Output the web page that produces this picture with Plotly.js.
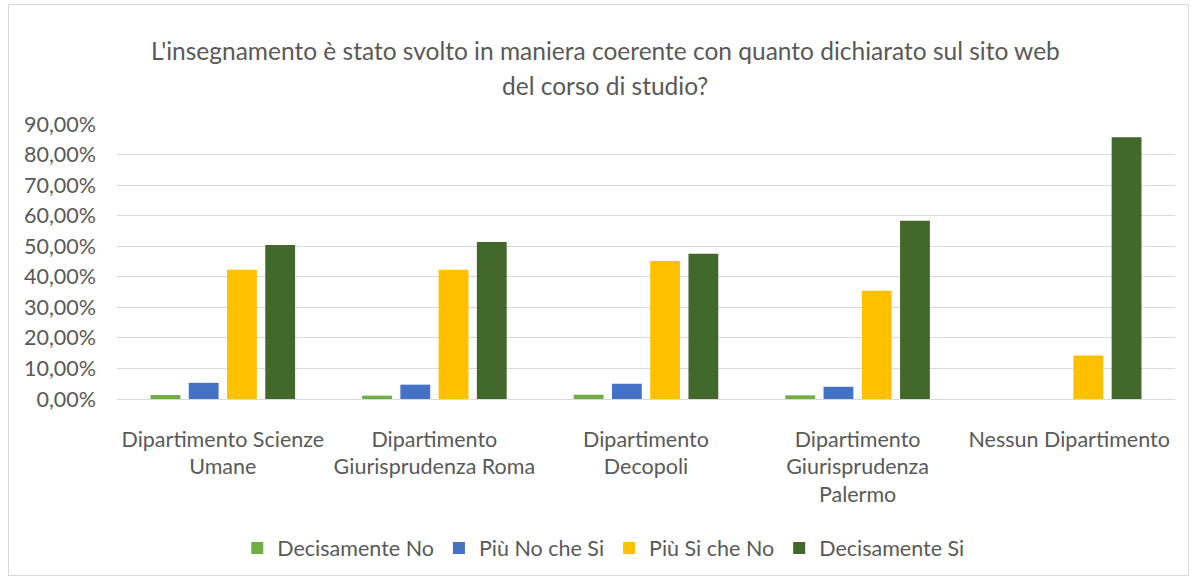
<!DOCTYPE html>
<html>
<head>
<meta charset="utf-8">
<script src="https://cdn.plot.ly/plotly-3.0.1.min.js"></script>
<style>
  html, body { margin: 0; padding: 0; background: #ffffff; }
  #frame { position: absolute; left: 8px; top: 4px; width: 1179px; height: 570px; border: 1px solid #d9d9d9; }
  #chart { position: absolute; left: 0; top: 0; width: 1197px; height: 579px; }
</style>
</head>
<body>
<div id="frame"></div>
<div id="chart"></div>
<script>
const categories = [
  "Dipartimento Scienze<br>Umane",
  "Dipartimento<br>Giurisprudenza Roma",
  "Dipartimento<br>Decopoli",
  "Dipartimento<br>Giurisprudenza<br>Palermo",
  "Nessun Dipartimento"
];
const seriesNames = ["Decisamente No", "Più No che Si", "Più Si che No", "Decisamente Si"];
const decisamenteNo = [0.013, 0.011, 0.014, 0.012, 0];
const piuNoCheSi   = [0.053, 0.047, 0.050, 0.040, 0];
const piuSiCheNo   = [0.423, 0.423, 0.452, 0.354, 0.142];
const decisamenteSi = [0.504, 0.514, 0.475, 0.583, 0.857];
const seriesColors = ["#70AD47", "#4472C4", "#FFC000", "#43682B"];
const yTickVals = [0, 0.1, 0.2, 0.3, 0.4, 0.5, 0.6, 0.7, 0.8, 0.9];
const yTickText = ["0,00%", "10,00%", "20,00%", "30,00%", "40,00%", "50,00%", "60,00%", "70,00%", "80,00%", "90,00%"];
const titleLines = [
  "L'insegnamento è stato svolto in maniera coerente con quanto dichiarato sul sito web",
  "del corso di studio?"
];

const allValues = [decisamenteNo, piuNoCheSi, piuSiCheNo, decisamenteSi];
const FONT = "Lato, 'Open Sans', sans-serif";
const GREY = "#595959";
const FS = 21.5;

const traces = allValues.map((vals, i) => ({
  type: "bar",
  name: seriesNames[i],
  x: categories,
  y: vals,
  marker: { color: seriesColors[i] },
  hoverinfo: "x+y+name"
}));

const ML = 117, MR = 22, MT = 124, MB = 180, W = 1197, H = 579;
const plotW = W - ML - MR, plotH = H - MT - MB;
const px2x = p => (p - ML) / plotW;
const px2y = p => (H - MB - p) / plotH;

const layout = {
  width: W,
  height: H,
  paper_bgcolor: "rgba(0,0,0,0)",
  plot_bgcolor: "rgba(0,0,0,0)",
  margin: { l: ML, r: MR, t: MT, b: MB, pad: 0 },
  barmode: "group",
  bargap: 0.277,
  bargroupgap: 0.22,
  font: { family: FONT, color: GREY, size: FS },
  showlegend: true,
  legend: {
    orientation: "h",
    xref: "container", yref: "container",
    x: 0.504, xanchor: "center",
    y: 1 - 548 / 579, yanchor: "middle",
    font: { family: FONT, size: FS, color: GREY },
    traceorder: "normal"
  },
  xaxis: {
    type: "category",
    showgrid: false,
    showline: false,
    zeroline: false,
    ticks: "",
    ticklabelstandoff: 25,
    tickfont: { family: FONT, size: FS, color: GREY },
    fixedrange: true
  },
  yaxis: {
    range: [0, 0.9],
    tickvals: yTickVals,
    ticktext: yTickText,
    showgrid: true,
    gridcolor: "#d9d9d9",
    gridwidth: 1.3,
    zeroline: true,
    zerolinecolor: "#d9d9d9",
    zerolinewidth: 1.3,
    showline: false,
    ticks: "",
    ticklabelstandoff: 20,
    tickfont: { family: FONT, size: FS, color: GREY },
    fixedrange: true
  },
  annotations: titleLines.map((t, i) => ({
    text: t,
    xref: "paper", yref: "paper",
    x: px2x(605), y: px2y(i === 0 ? 50 : 85),
    xanchor: "center", yanchor: "middle",
    showarrow: false,
    font: { family: FONT, size: 24.5, color: GREY }
  }))
};

Plotly.newPlot("chart", traces, layout, { displayModeBar: false, responsive: false });
</script>
</body>
</html>
